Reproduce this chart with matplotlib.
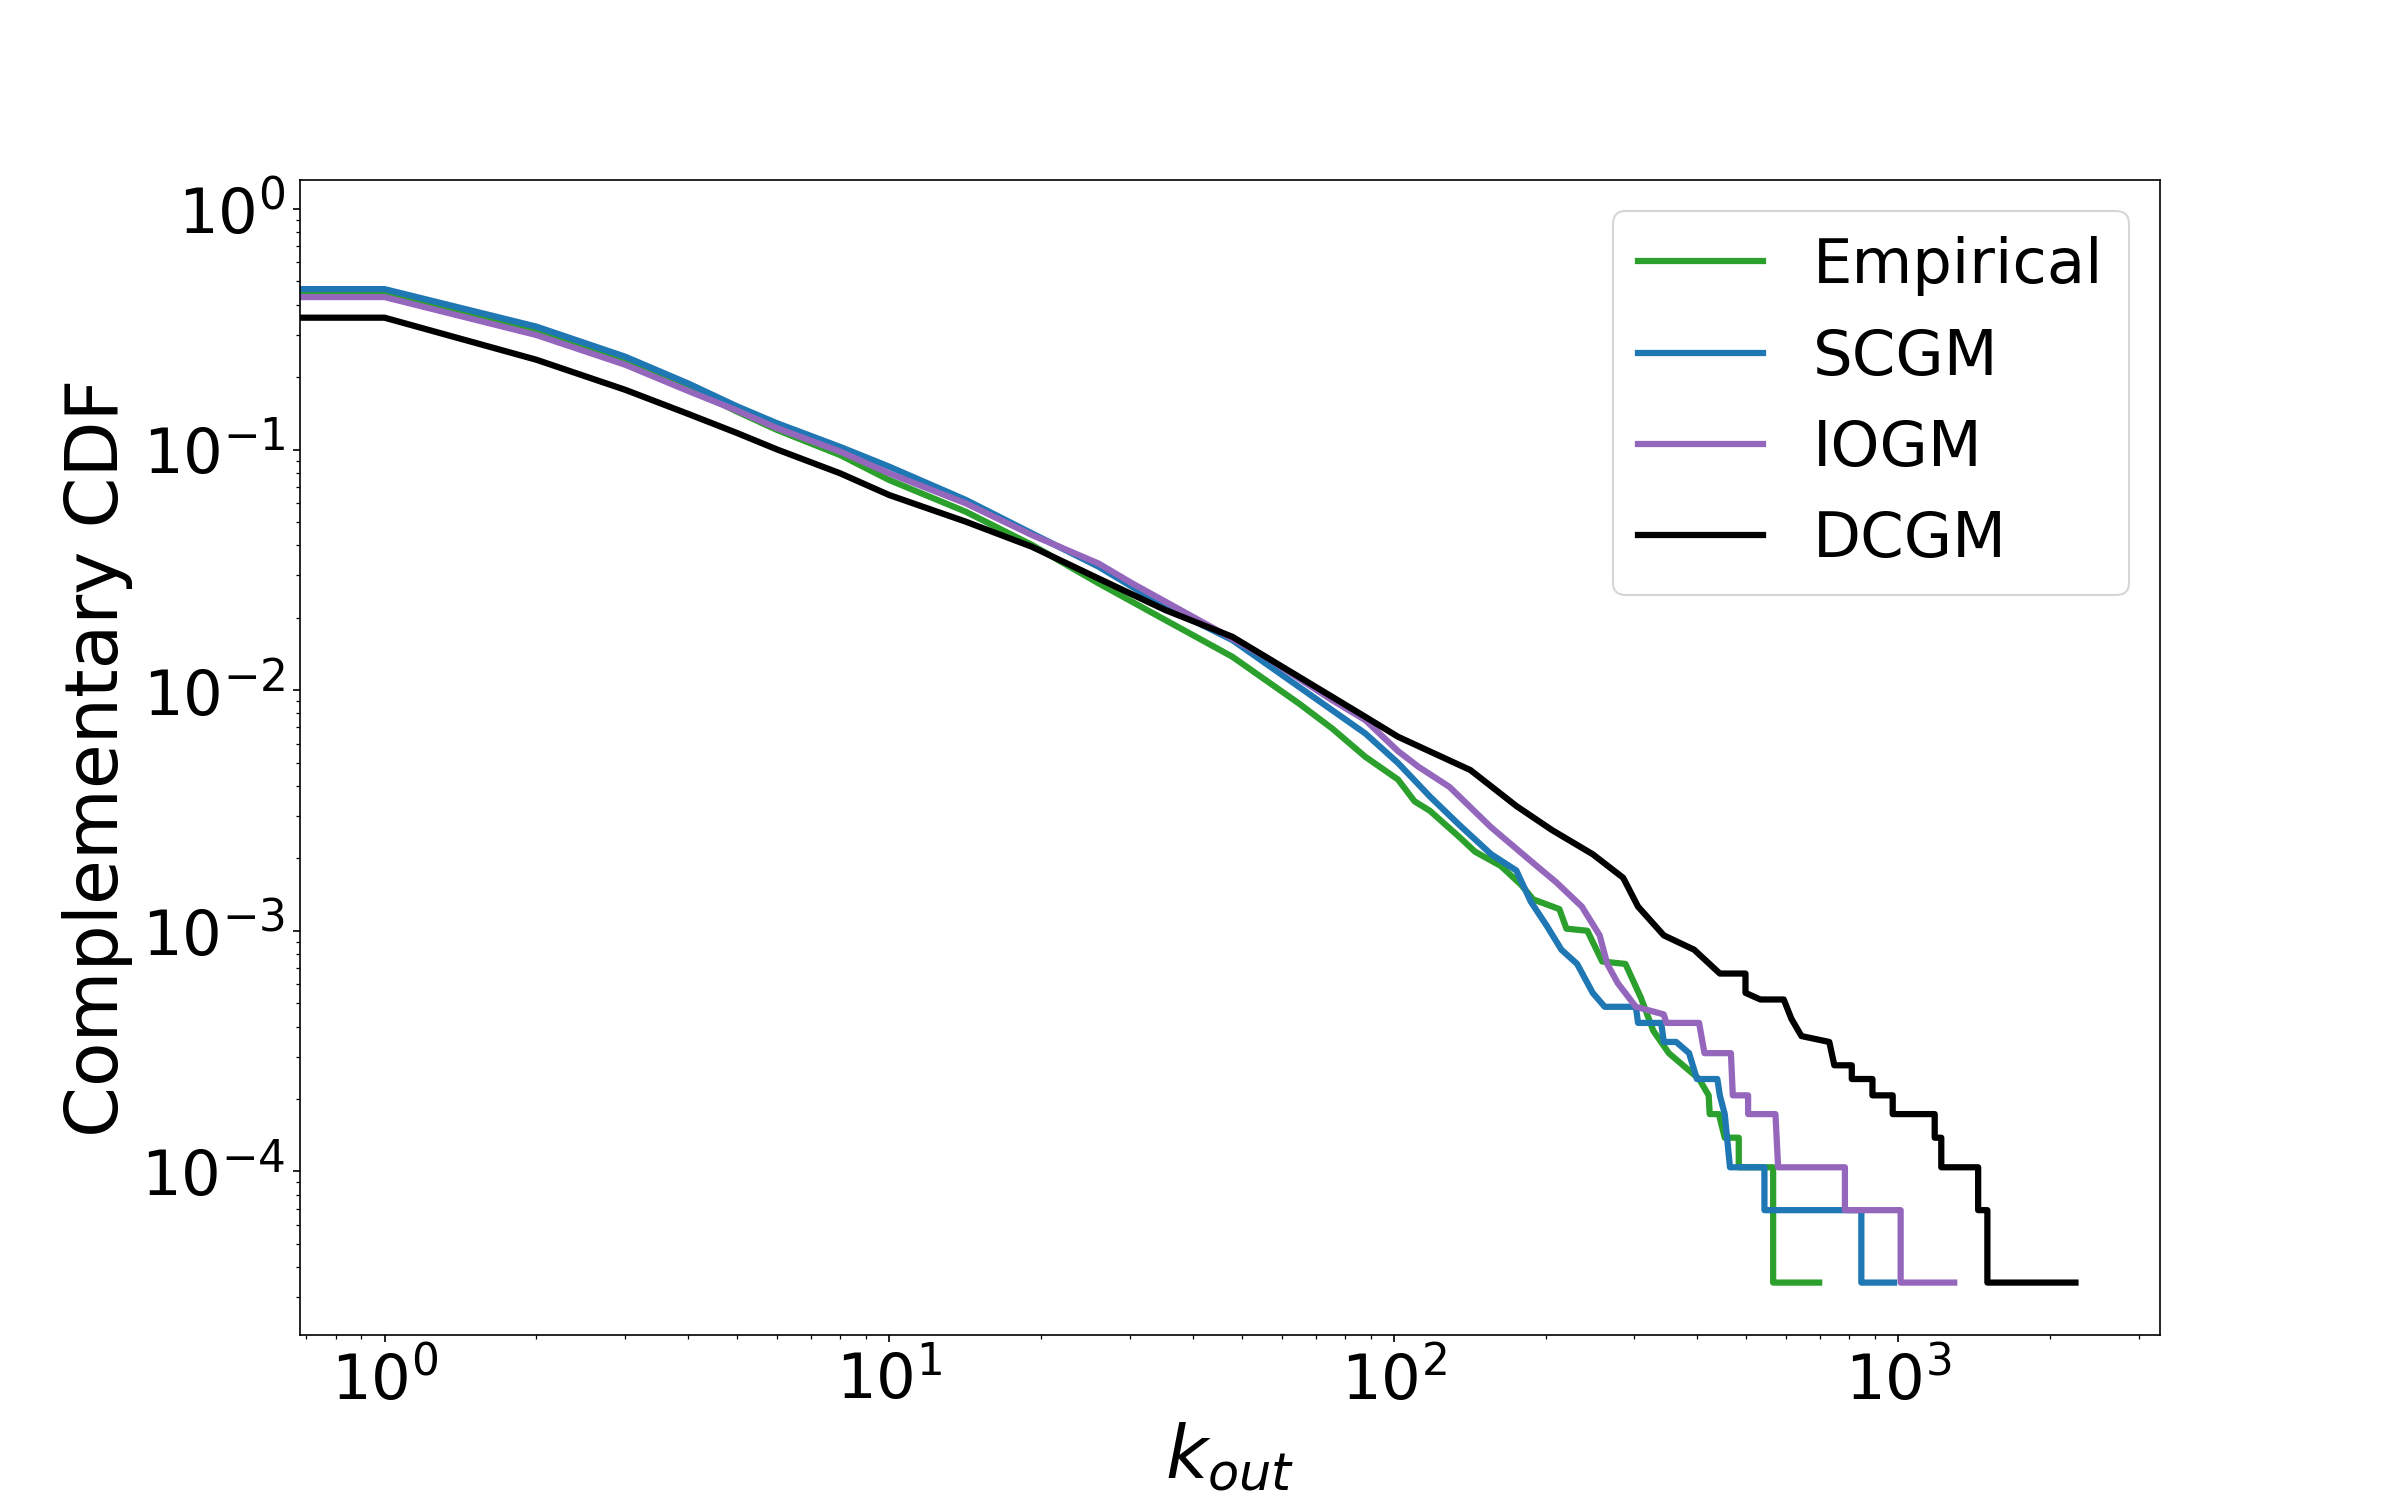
import numpy as np
import matplotlib
matplotlib.use("Agg")
import matplotlib.pyplot as plt

# complementary CDF of out-degree
k_emp = [0, 1, 2, 3, 4, 5, 6, 8, 10, 14.2, 19.2, 26, 35.3, 47.9, 64.9, 75.5, 87.9,
         102, 110, 118, 135, 145, 163, 179, 189, 213, 220, 242, 259, 288, 309, 327, 351,
         403, 421, 423, 441, 453, 483, 483, 565, 565, 697]
p_emp = [0.446, 0.446, 0.312, 0.233, 0.181, 0.1436, 0.1205, 0.0948, 0.0747, 0.0551, 0.0401,
         0.0278, 0.01954, 0.01376, 0.0088, 0.00693, 0.00528,
         0.00425, 0.00345, 0.00315, 0.00245, 0.00213, 0.00186, 0.00155, 0.00135, 0.00123,
         0.00102, 0.001, 0.000745, 0.000728, 0.000527, 0.000384, 0.00031,
         0.000242, 0.000207, 0.000173, 0.000173, 0.000138, 0.000138, 0.000104, 0.000104,
         0.0000345, 0.0000345]

k_scgm = [0, 1, 2, 3, 4, 5, 6, 8, 10, 14.2, 19.2, 26, 35.3, 47.9, 64.9, 87.9,
          102, 118, 135, 156, 175, 187, 201, 215, 231, 248,
          262, 302, 305, 339, 343, 363, 385, 399, 438, 443, 453, 464,
          543, 543, 845, 845, 981]
p_scgm = [0.464, 0.464, 0.324, 0.243, 0.188, 0.151, 0.1285, 0.1025, 0.0849, 0.0617, 0.0448,
          0.0326, 0.0222, 0.01614, 0.01032, 0.0066,
          0.00498, 0.00361, 0.00275, 0.00208, 0.00178, 0.00132, 0.00105, 0.000834, 0.000728,
          0.000552,
          0.000483, 0.000483, 0.000414, 0.000414, 0.000345, 0.000345, 0.00031, 0.000242,
          0.000242, 0.000207, 0.000173, 0.000104,
          0.000104, 0.000069, 0.000069, 0.0000345, 0.0000345]

k_iogm = [0, 1, 2, 3, 4, 5, 6, 8, 10, 14.2, 19.2, 26, 30.3, 41.1, 55.7, 75.5, 87.9,
          102, 112, 129, 156, 192, 210, 236, 256, 265, 278, 302, 343, 347, 403, 413,
          466, 470, 504, 504, 571, 578, 784, 784, 1011, 1011, 1291]
p_iogm = [0.43, 0.43, 0.299, 0.225, 0.175, 0.145, 0.1226, 0.098, 0.0796, 0.0597, 0.0441,
          0.0336, 0.0278, 0.01954, 0.01376, 0.00909, 0.0075,
          0.00558, 0.0048, 0.00396, 0.00269, 0.00186, 0.00159, 0.00126, 0.000957, 0.000728,
          0.000606, 0.000483, 0.000449, 0.000414, 0.000414, 0.00031,
          0.00031, 0.000207, 0.000207, 0.000173, 0.000173, 0.000104, 0.000104, 0.000069,
          0.000069, 0.0000345, 0.0000345]

k_dcgm = [0, 1, 2, 3, 4, 5, 6, 8, 10, 14.2, 19.2, 26, 35.3, 47.9, 64.9, 87.9, 102,
          142, 175, 206, 248, 285, 305, 343, 394, 443, 498, 498, 533, 593, 614, 643,
          730, 747, 809, 809, 889, 889, 975, 975, 1181, 1181, 1217, 1217, 1440, 1440,
          1502, 1502, 2245]
p_dcgm = [0.353, 0.353, 0.236, 0.177, 0.1405, 0.117, 0.1, 0.0796, 0.0647, 0.0501, 0.0394,
          0.0291, 0.0215, 0.01666, 0.01136, 0.00774, 0.0064,
          0.00465, 0.0033, 0.00262, 0.00208, 0.00166, 0.00126, 0.000957, 0.000834, 0.000664,
          0.000664, 0.000552, 0.000518, 0.000518, 0.000431, 0.000365,
          0.000345, 0.000276, 0.000276, 0.000242, 0.000242, 0.000207, 0.000207, 0.000173,
          0.000173, 0.000138, 0.000138, 0.000104, 0.000104, 0.000069, 0.000069,
          0.0000345, 0.0000345]

fig = plt.figure(figsize=(16, 10), dpi=150)
ax = fig.add_subplot(111)

ax.plot(k_emp, p_emp, color='tab:green', lw=3, label='Empirical')
ax.plot(k_scgm, p_scgm, color='tab:blue', lw=3, label='SCGM')
ax.plot(k_iogm, p_iogm, color='tab:purple', lw=3, label='IOGM')
ax.plot(k_dcgm, p_dcgm, color='black', lw=3, label='DCGM')

ax.set_xscale('log')
ax.set_yscale('log')
ax.set_ylim(10 ** -4.68, 10 ** 0.12)

ax.set_xlabel('$k_{out}$', fontsize=35)
ax.set_ylabel('Complementary CDF', fontsize=35)
ax.tick_params(axis='both', which='major', labelsize=30)
ax.legend(fontsize=30, loc='upper right')

fig.savefig('out.png', dpi=150)
